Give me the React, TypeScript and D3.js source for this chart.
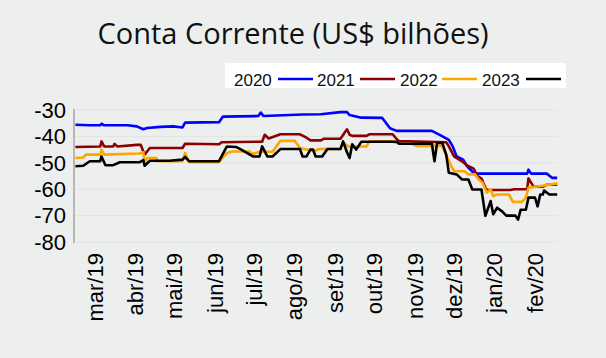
import React from 'react';
import * as d3 from 'd3';

const W = 606;
const H = 358;
const TITLE = 'Conta Corrente (US$ bilhões)';
const yTicks = [-30, -40, -50, -60, -70, -80];
const monthTicks = ['2019-03-01', '2019-04-01', '2019-05-01', '2019-06-01', '2019-07-01', '2019-08-01', '2019-09-01', '2019-10-01', '2019-11-01', '2019-12-01', '2020-01-01', '2020-02-01'];
const monthLabels = ['mar/19', 'abr/19', 'mai/19', 'jun/19', 'jul/19', 'ago/19', 'set/19', 'out/19', 'nov/19', 'dez/19', 'jan/20', 'fev/20'];
const legendLabels = ['2020', '2021', '2022', '2023'];
const colors = ['#0000ff', '#8b0000', '#ffa500', '#000000'];

const s2020: [string, number][] = [
  ['2019-02-14', -35.6], ['2019-02-25', -35.8], ['2019-03-05', -35.8], ['2019-03-06', -35.2], ['2019-03-08', -35.8],
  ['2019-03-26', -35.8], ['2019-04-02', -36.2], ['2019-04-07', -37.3], ['2019-04-10', -36.8], ['2019-04-20', -36.4],
  ['2019-04-30', -36.2], ['2019-05-07', -36.6], ['2019-05-09', -34.8], ['2019-06-04', -34.6], ['2019-06-07', -32.5],
  ['2019-07-04', -32.3], ['2019-07-06', -31.0], ['2019-07-08', -32.3], ['2019-08-07', -31.7], ['2019-08-21', -31.6],
  ['2019-09-05', -30.8], ['2019-09-10', -30.8], ['2019-09-12', -31.9], ['2019-09-21', -32.9], ['2019-10-07', -33.0],
  ['2019-10-13', -36.9], ['2019-10-18', -37.9], ['2019-11-14', -37.9], ['2019-11-20', -39.4], ['2019-11-27', -41.3],
  ['2019-11-30', -43.8], ['2019-12-03', -47.6], ['2019-12-08', -48.8], ['2019-12-11', -51.3], ['2019-12-16', -53.8],
  ['2019-12-19', -54.1], ['2020-01-26', -54.1], ['2020-01-27', -52.6], ['2020-01-29', -54.1], ['2020-02-10', -54.1],
  ['2020-02-14', -55.7], ['2020-02-18', -55.7],
];

const s2021: [string, number][] = [
  ['2019-02-14', -44.0], ['2019-03-05', -43.8], ['2019-03-06', -41.9], ['2019-03-08', -43.8], ['2019-03-15', -43.8],
  ['2019-03-16', -42.8], ['2019-03-18', -43.8], ['2019-04-02', -43.2], ['2019-04-05', -43.2], ['2019-04-08', -46.9],
  ['2019-04-12', -44.4], ['2019-05-07', -44.4], ['2019-05-09', -42.8], ['2019-06-04', -43.0], ['2019-06-06', -42.2],
  ['2019-07-07', -42.0], ['2019-07-09', -39.4], ['2019-07-12', -40.8], ['2019-07-21', -39.2], ['2019-08-05', -39.2],
  ['2019-08-10', -40.5], ['2019-08-13', -41.5], ['2019-08-21', -41.5], ['2019-08-23', -40.9], ['2019-09-05', -40.9],
  ['2019-09-10', -37.3], ['2019-09-12', -39.4], ['2019-09-14', -39.8], ['2019-09-25', -39.8], ['2019-09-27', -39.2],
  ['2019-10-15', -39.2], ['2019-10-18', -41.0], ['2019-10-20', -41.8], ['2019-11-25', -42.2], ['2019-11-27', -43.8],
  ['2019-12-01', -47.6], ['2019-12-08', -49.8], ['2019-12-11', -51.0], ['2019-12-16', -52.2], ['2019-12-19', -55.0],
  ['2019-12-22', -56.0], ['2019-12-25', -59.4], ['2019-12-26', -60.3], ['2020-01-13', -60.3], ['2020-01-16', -60.0],
  ['2020-01-26', -60.0], ['2020-01-27', -55.9], ['2020-01-31', -59.1], ['2020-02-07', -59.1], ['2020-02-10', -58.3],
  ['2020-02-18', -58.3],
];

const s2022: [string, number][] = [
  ['2019-02-14', -48.2], ['2019-02-20', -48.0], ['2019-02-22', -46.9], ['2019-03-05', -46.9], ['2019-03-06', -45.0],
  ['2019-03-08', -46.9], ['2019-04-04', -46.5], ['2019-04-07', -46.0], ['2019-04-08', -49.4], ['2019-04-10', -48.2],
  ['2019-04-17', -48.2], ['2019-04-18', -49.4], ['2019-05-07', -49.4], ['2019-05-09', -46.3], ['2019-05-12', -49.8],
  ['2019-06-04', -49.8], ['2019-06-10', -46.3], ['2019-06-14', -45.7], ['2019-06-27', -45.7], ['2019-06-30', -46.7],
  ['2019-07-05', -45.8], ['2019-07-15', -45.8], ['2019-07-21', -41.7], ['2019-08-01', -41.7], ['2019-08-05', -44.4],
  ['2019-08-10', -45.0], ['2019-08-13', -45.0], ['2019-08-15', -45.7], ['2019-08-20', -44.8], ['2019-09-05', -44.8],
  ['2019-09-07', -42.3], ['2019-09-11', -43.8], ['2019-09-25', -43.8], ['2019-09-27', -41.9], ['2019-10-15', -41.9],
  ['2019-10-20', -42.8], ['2019-10-30', -42.8], ['2019-11-02', -43.6], ['2019-11-22', -43.6], ['2019-11-23', -45.0],
  ['2019-11-29', -51.3], ['2019-12-01', -53.2], ['2019-12-09', -53.2], ['2019-12-12', -54.4], ['2019-12-17', -54.4],
  ['2019-12-20', -56.3], ['2019-12-23', -57.6], ['2019-12-26', -61.3], ['2019-12-29', -60.1], ['2019-12-31', -62.6],
  ['2020-01-03', -62.0], ['2020-01-12', -62.0], ['2020-01-15', -64.8], ['2020-01-22', -64.8], ['2020-01-25', -63.2],
  ['2020-01-27', -59.4], ['2020-02-03', -59.0], ['2020-02-18', -57.8],
];

const s2023: [string, number][] = [
  ['2019-02-14', -51.3], ['2019-02-20', -51.1], ['2019-02-25', -49.4], ['2019-03-05', -49.4], ['2019-03-06', -47.6],
  ['2019-03-09', -50.9], ['2019-03-15', -50.9], ['2019-03-20', -49.8], ['2019-04-04', -49.8], ['2019-04-07', -49.0],
  ['2019-04-08', -51.1], ['2019-04-12', -49.2], ['2019-04-27', -49.2], ['2019-05-07', -48.8], ['2019-05-09', -47.8],
  ['2019-05-12', -49.4], ['2019-06-04', -49.4], ['2019-06-10', -43.8], ['2019-06-17', -44.0], ['2019-06-21', -45.0],
  ['2019-06-30', -47.6], ['2019-07-05', -47.6], ['2019-07-07', -43.8], ['2019-07-11', -47.6], ['2019-07-15', -47.6],
  ['2019-07-21', -44.8], ['2019-08-05', -44.8], ['2019-08-07', -47.6], ['2019-08-10', -47.6], ['2019-08-13', -45.0],
  ['2019-08-15', -45.0], ['2019-08-17', -47.6], ['2019-08-22', -47.6], ['2019-08-26', -44.8], ['2019-09-05', -44.8],
  ['2019-09-07', -41.9], ['2019-09-10', -46.0], ['2019-09-12', -48.2], ['2019-09-14', -43.0], ['2019-09-17', -45.0],
  ['2019-09-21', -42.0], ['2019-10-18', -42.0], ['2019-10-20', -42.8], ['2019-11-14', -42.8], ['2019-11-16', -49.4],
  ['2019-11-18', -42.5], ['2019-11-22', -42.5], ['2019-11-25', -46.9], ['2019-11-27', -53.8], ['2019-12-03', -54.4],
  ['2019-12-07', -56.3], ['2019-12-12', -56.3], ['2019-12-15', -60.1], ['2019-12-22', -60.1], ['2019-12-25', -70.1],
  ['2019-12-29', -64.5], ['2019-12-31', -69.5], ['2020-01-03', -67.0], ['2020-01-07', -68.5], ['2020-01-10', -70.0],
  ['2020-01-17', -70.0], ['2020-01-19', -71.5], ['2020-01-21', -67.8], ['2020-01-25', -67.8], ['2020-01-27', -63.2],
  ['2020-02-01', -63.2], ['2020-02-03', -66.5], ['2020-02-05', -62.0], ['2020-02-07', -62.0], ['2020-02-08', -60.5],
  ['2020-02-12', -62.0], ['2020-02-18', -62.0],
];

const seriesList = [s2020, s2021, s2022, s2023];

const parse = d3.timeParse('%Y-%m-%d');

export default function App() {
  const x = d3.scaleTime()
    .domain([parse('2019-03-01') as Date, parse('2020-02-01') as Date])
    .range([95, 535]);
  const y = d3.scaleLinear().domain([-30, -80]).range([110, 242]);
  const line = d3.line<[string, number]>()
    .x((d) => x(parse(d[0]) as Date))
    .y((d) => y(d[1]));

  const axisFont = "'Liberation Sans', Arial, sans-serif";
  const legendX = [234, 317, 400, 482];
  const legendLineX = [278, 360, 442, 526];

  return (
    <svg width={W} height={H} style={{ position: 'absolute', left: 0, top: 0 }}>
      <rect x={0} y={0} width={W} height={H} fill="#edefee" />
      <text x={293} y={44} textAnchor="middle" fontFamily="'Open Sans', sans-serif" fontSize={29} fill="#111">
        {TITLE}
      </text>
      {/* legend */}
      <rect x={225} y={63} width={341} height={25} fill="#ffffff" />
      {legendLabels.map((l, i) => (
        <g key={l}>
          <text x={legendX[i]} y={86} fontFamily={axisFont} fontSize={17} fill="#111">{l}</text>
          <line x1={legendLineX[i]} x2={legendLineX[i] + 35} y1={79} y2={79} stroke={colors[i]} strokeWidth={2.5} />
        </g>
      ))}
      {/* grid */}
      {yTicks.map((t) => (
        <line key={t} x1={74} x2={557} y1={y(t)} y2={y(t)} stroke="#e2e3e3" strokeWidth={1} />
      ))}
      {/* y axis */}
      <line x1={74} x2={74} y1={y(-30) - 1} y2={y(-80) + 1} stroke="#a6a6a6" strokeWidth={1.5} />
      {yTicks.map((t) => (
        <text key={t} x={66} y={y(t)} dy="0.35em" textAnchor="end" fontFamily={axisFont} fontSize={22} fill="#000">
          {t}
        </text>
      ))}
      {/* x labels */}
      {monthTicks.map((m, i) => (
        <text
          key={m}
          transform={`translate(${x(parse(m) as Date)},253) rotate(-90)`}
          dy="0.35em"
          textAnchor="end"
          fontFamily={axisFont}
          fontSize={22}
          fill="#000"
        >
          {monthLabels[i]}
        </text>
      ))}
      {/* series */}
      {seriesList.map((s, i) => (
        <path key={i} d={line(s) || ''} fill="none" stroke={colors[i]} strokeWidth={2.6} strokeLinejoin="round" />
      ))}
    </svg>
  );
}
